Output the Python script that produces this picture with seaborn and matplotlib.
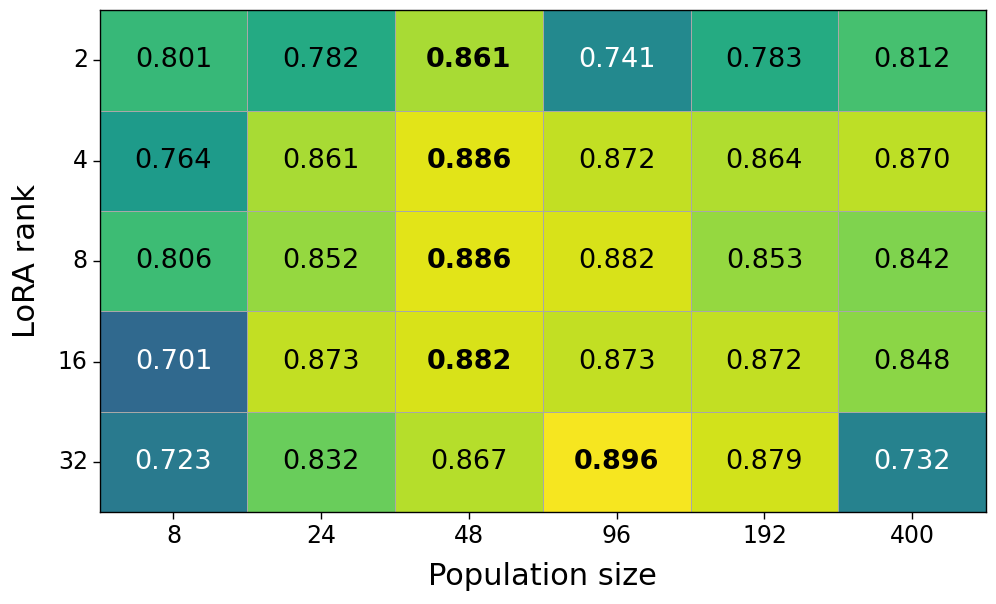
import numpy as np
import pandas as pd
import seaborn as sns
import matplotlib.pyplot as plt

ranks = ["2", "4", "8", "16", "32"]
pop_sizes = ["8", "24", "48", "96", "192", "400"]
row_2 = [0.801, 0.782, 0.861, 0.741, 0.783, 0.812]
row_4 = [0.764, 0.861, 0.886, 0.872, 0.864, 0.870]
row_8 = [0.806, 0.852, 0.886, 0.882, 0.853, 0.842]
row_16 = [0.701, 0.873, 0.882, 0.873, 0.872, 0.848]
row_32 = [0.723, 0.832, 0.867, 0.896, 0.879, 0.732]

data = pd.DataFrame([row_2, row_4, row_8, row_16, row_32], index=ranks, columns=pop_sizes)

fig, ax = plt.subplots(figsize=(9.96, 6.04), dpi=100)
fig.subplots_adjust(left=0.1, right=0.99, top=0.983, bottom=0.152)
sns.heatmap(data, ax=ax, cmap="viridis", vmin=0.6, vmax=0.9, cbar=False,
            linewidths=0.5, linecolor="#a8a8a8", annot=False)

vals = data.values
for i in range(vals.shape[0]):
    jmax = int(np.argmax(vals[i]))
    for j in range(vals.shape[1]):
        v = vals[i, j]
        color = "white" if v < 0.75 else "black"
        ax.text(j + 0.5, i + 0.5, f"{v:.3f}", ha="center", va="center",
                fontsize=19.5, color=color,
                fontweight="bold" if j == jmax else "normal")

for s in ax.spines.values():
    s.set_visible(True)
    s.set_color("black")
    s.set_linewidth(1)

ax.set_xlabel("Population size", fontsize=22, labelpad=10)
ax.set_ylabel("LoRA rank", fontsize=22, labelpad=12)
ax.tick_params(axis="both", labelsize=17, length=5, width=1)
plt.setp(ax.get_yticklabels(), rotation=0)
plt.setp(ax.get_xticklabels(), rotation=0)

fig.savefig("out.png", dpi=100)
